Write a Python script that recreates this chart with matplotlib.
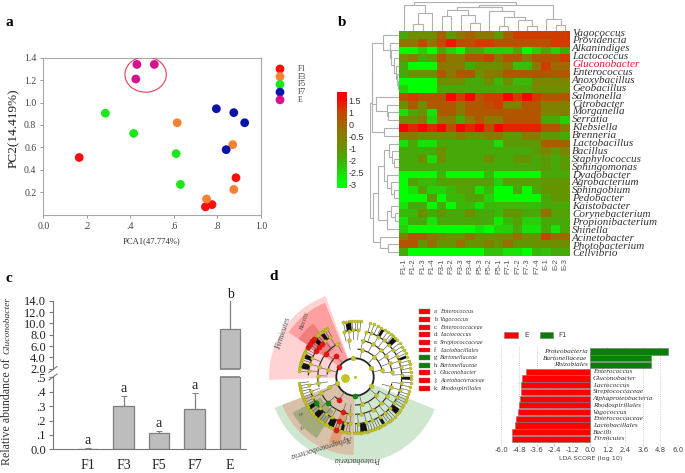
import numpy as np
import matplotlib
matplotlib.use("Agg")
import matplotlib.pyplot as plt
from matplotlib.colors import LinearSegmentedColormap
from matplotlib.patches import Ellipse, Wedge, Arc, Rectangle

W, H = 685, 473
SERIF = "Liberation Serif"

# panel a: PCA scatter
pca_groups = ["F1", "F3", "F5", "F7", "E"]
pca_colors = ["#fb0d0d", "#f58231", "#1be81b", "#0a14a8", "#d6128f"]
pca_x = [[0.165, 0.885, 0.775, 0.745],
         [0.615, 0.87, 0.875, 0.75],
         [0.285, 0.415, 0.61, 0.63],
         [0.795, 0.875, 0.925, 0.84],
         [0.43, 0.51, 0.425]]
pca_y = [[0.51, 0.33, 0.09, 0.07],
         [0.82, 0.625, 0.225, 0.14],
         [0.905, 0.725, 0.545, 0.27],
         [0.945, 0.91, 0.82, 0.58],
         [1.34, 1.34, 1.21]]

# panel b: heatmap
genera = ["Vagococcus", "Providencia", "Alkanindiges", "Lactococcus", "Gluconobacter",
          "Enterococcus", "Anoxybacillus", "Geobacillus", "Salmonella", "Citrobacter",
          "Morganella", "Serratia", "Klebsiella", "Brenneria", "Lactobacillus", "Bacillus",
          "Staphylococcus", "Sphingomonas", "Dyadobacter", "Agrobacterium", "Sphingobium",
          "Pedobacter", "Kaistobacter", "Corynebacterium", "Propionibacterium", "Shinella",
          "Acinetobacter", "Photobacterium", "Cellvibrio"]
samples = ["F1-1", "F1-2", "F1-3", "F1-4", "F3-1", "F3-2", "F3-3", "F3-4", "F5-3",
           "F5-2", "F5-1", "F7-1", "F7-2", "F7-3", "F7-4", "E-1", "E-2", "E-3"]
heat = [
    [-2, -1, -1, -1, 0, -1.5, -0.5, 0, -0.5, -0.5, -1.5, 0, 1, 1, 1, 1, 1, 1],
    [-0.5, -0.5, 0.5, -0.5, 0.5, 1.3, 0.5, 0.3, 1, 1, 0.3, 0.3, 0.3, 0.3, 0.3, 0.3, 1, 1],
    [-3, -3, -2.5, -3, -2, -2.5, -3, -2, -2, -2.5, -2.5, -2.5, -2, -3, -2.5, -2, -2.5, -2],
    [-1, -0.5, -2, -1.5, 0.3, -0.5, -0.5, 0.3, 0.3, 1, -0.5, 0.3, 0.3, -0.5, 0.3, 0.3, 0.3, 1],
    [-2, -3, -3, -3, -0.5, -0.5, -0.5, -2, -1, -1, -1, -0.5, -2.3, -2.3, -0.5, 1, -0.2, -0.2],
    [-2, -1, -1, -1, 0.3, -0.5, 0.3, 0.3, -1, -0.5, -0.5, 0.3, 0.3, 0.3, 0.3, 0.3, 0.2, 0.2],
    [-3, -3, -3, -3, -1, -1, -1, -2, -2, -1, -2.2, -1, -2.2, -2.2, -0.8, -0.8, -0.8, -0.8],
    [-2.5, -3, -3, -3, -2, -2, -2, -2, -2, -2, -2, -2, -2, -2, -1, -1, -1, -1],
    [0.3, 1, 0.3, 0.3, 0.3, 1.5, 1, 1.5, 0.3, 1, 1, 1.5, 1, 1.5, 1, 0.3, 0.3, 0.3],
    [-1, 0.2, -1, 0.2, 0.2, 0.2, -0.5, 0.2, 0.2, 0.5, 1, -0.7, -0.7, 0.3, 0.3, -0.7, -0.7, -0.7],
    [-2.7, -2, -1, -2.7, 0.2, 0.2, -0.5, 0.2, 0.2, 0.2, 0.2, 0.2, 0.3, 0.3, 0.3, -0.7, -0.7, -0.7],
    [-1, -1, -0.5, -2.5, -0.5, -0.5, -2, -0.5, 0.2, -0.5, -0.5, 0.3, 0.3, 0.3, 0.3, -2, -2, -2.5],
    [1.5, 1.2, 1.5, 1.2, 1.5, 0.5, 1.5, 1.2, 1.5, 0.5, 1.5, 1.2, 1.2, 1.2, 1.2, 0.3, 0.3, -0.5],
    [-0.5, -0.5, -1, -1, -1, -1, -0.5, -1, -1, -0.5, -0.5, -1.5, -1.5, -0.5, -0.5, -1.5, -1.5, -2],
    [-2.7, -2, -2.7, -2.7, -2, -2, -2, -2, -2, -2, -2.7, -1.5, -1.5, -1.5, -1.5, 0, 0, 0],
    [-2, -2, -2, -2, -1, -2, -2, -2, -2, -2, -2, -2, -2, -2, -1.5, -0.8, -1.5, -0.8],
    [-2, -2, -1, -2.6, -1, -2, -2, -2, -2, -1, -2, -2, -1.3, -1.3, -2, -1.5, -2, -1.5],
    [-2, -2, -2, -2, -2, -2, -2, -2, -2, -2, -2, -2, -2, -2, -2, -1.5, -2, -1.5],
    [-3, -3, -3, -3, -2.2, -3, -3, -3, -3, -2.2, -3, -3, -3, -3, -3, -2, -2, -2],
    [-3, -1.7, -2.2, -2.2, -1.7, -1.7, -1.7, -1.7, -1.7, -1.7, -2.5, -1.7, -1.7, -1.7, -1.7, -1.3, -1.3, -1.3],
    [-3, -2.7, -1.7, -2.5, -2.5, -2.2, -1.7, -1.7, -2.7, -2.2, -3, -3, -2, -3, -2, -1.3, -1.3, -1.3],
    [-3, -3, -3, -1.5, -3, -2.2, -2.2, -1.7, -1.7, -2.5, -3, -3, -3, -3, -3, -2, -1.3, -1.3],
    [-2.7, -2, -2, -3, -2, -3, -2.2, -2.2, -2.7, -2.2, -2.2, -2.2, -2.2, -2.2, -2.2, -2, -2, -2],
    [-2.2, -2.2, -1, -2, -1.3, -2, -2, -1, -2, -2, -2.2, -1.3, -1.3, -2, -2, -0.3, -1.7, -1.7],
    [-2.7, -2, -2, -2.7, -2, -2, -2, -2, -2, -2, -2.8, -2.2, -1.7, -2.5, -2.5, -2, -2, -2],
    [-2.5, -3, -3, -3, -3, -3, -3, -3, -2.7, -3, -2.5, -2.5, -2, -2.7, -2.7, -2, -2.7, -2],
    [-0.7, 0.2, 0.2, -0.3, -0.7, -1, -1, -0.3, -1, -1, -1, -1, -0.3, -1, -1, 0.8, -0.2, -0.2],
    [0.3, 0.3, -1.3, -0.3, -1.2, -1.2, -0.3, -1.2, -1.2, -0.6, -1.2, -0.3, -1.3, -1.3, -1.2, -1, -1, -1],
    [-2, -3, -3, -3, -3, -3, -3, -3, -3, -2.3, -2.3, -2.7, -2.7, -3, -2.2, -2.3, -2, -2],
]
cbar_levels = [1.5, 1, 0, -0.5, -1, -2, -2.5, -3]

# dendrograms: (height, left, right), ints are leaves
col_left = (78, 0, (55, (20, 1, 2), 3))
col_mid = (65, (45, 4, 5), (50, 6, (25, 7, 8)))
col_right = (42, (15, 10, 11), (32, 12, (15, 13, 14)))
col_end = (35, 15, (18, 16, 17))
col_tree = (87, col_left, (78, (72, col_mid, (60, 9, col_right)), col_end))

row_g1 = (48, 0, (28, 1, (24, 2, (16, 3, (10, 4, (7, 5, (4, 6, 7)))))))
row_g2 = (72, 8, (38, 9, (34, 10, 11)))
row_g3 = (45, 12, 13)
row_g4 = (64, (46, (30, 14, (22, 15, (14, 16, 17))), (36, 18, (24, 19, (14, 20, 21)))),
          (38, (26, 22, (12, 23, 24)), 25))
row_g5 = (58, 26, (34, 27, 28))
row_tree = (88, (84, (82, row_g1, row_g2), row_g3), (80, row_g4, row_g5))

# panel c: Gluconobacter abundance
abund_groups = ["F1", "F3", "F5", "F7", "E"]
abund_mean = [0.005, 0.30, 0.115, 0.28, 9.0]
abund_err = [0.006, 0.07, 0.01, 0.11, 5.1]
abund_letters = ["a", "a", "a", "a", "b"]

# panel d: cladogram, angles in degrees
clade_legend = ["Enterococcus", "Vagococcus", "Enterococcaceae", "Lactococcus",
                "Streptococcaceae", "Lactobacillales", "Bartonellaceae", "Bartonellaceae",
                "Gluconobacter", "Acetobacteraceae", "Rhodospirillales"]
clade_legend_keys = ["a", "b", "c", "d", "e", "f", "g", "h", "i", "j", "k"]
clade_legend_colors = ["red"] * 6 + ["#0a7d0a"] * 2 + ["red"] * 3

ring_radii = [18.7, 28, 37.3, 46.7, 56]
ring1_nodes = [30, 95, 200, 330]
ring2_nodes = [46, 165, 284, 320, 15, 75, 200]
ring3_nodes = [8, 22, 34, 46, 62, 78, 100, 118, 165, 178, 190, 205, 262, 280, 298, 315, 330, 345]
ring4_nodes = [-16, -8, 3, 12, 20, 27, 36, 44, 52, 60, 70, 76, 86, 92, 98, 104, 122, 130, 156,
               164, 172, 190, 198, 206, 222, 232, 240, 258, 264, 274, 284, 292, 302, 310, 318,
               326, 334]
leaf_nodes = [-14, -10, -6, -2, 1, 5, 9, 13, 17, 21, 25, 29, 33, 37, 41, 44, 47, 50, 54, 58, 62,
              66, 70, 74, 84, 87, 90, 93, 96, 99, 102, 120, 123, 126, 129, 132, 135, 138, 141,
              144, 147, 150, 153, 156, 159, 162, 165, 168, 171, 174, 186, 189, 192, 195, 198,
              201, 204, 207, 210, 213, 216, 219, 222, 225, 228, 231, 234, 237, 240, 243, 246,
              249, 252, 255, 258, 261, 264, 270, 273, 276, 279, 282, 285, 288, 291, 294, 297,
              300, 303, 306, 309, 312, 315, 318, 321, 324, 327, 330, 333, 336, 339, 342]
black_sectors = [(94, 100), (41, 46), (58, 61), (20, 23), (-3, 0), (-40, -36), (276, 283),
                 (240, 247), (255, 258), (222, 228), (212, 216), (125, 129), (134, 139),
                 (155, 160), (165, 171), (300, 303), (318, 321)]
arc_spans = [(28, 128, 175), (28, 225, 240), (28, 270, 330), (28, 10, 85),
             (37.3, 115, 195), (37.3, 205, 260), (37.3, 270, 350), (37.3, 5, 80),
             (46.7, 120, 178), (46.7, 195, 265), (46.7, 270, 345), (46.7, -20, 74), (46.7, 84, 104)]
olive_spans = [(118, 176), (186, 266), (268, 300)]
red_nodes_r = [18.7, 28, 37.3, 46.7, 46.7, 46.7, 56, 56, 56, 56, 28, 37.3, 46.7, 56]
red_nodes_a = [146, 132, 141, 140, 146.5, 135, 140.5, 147, 144, 137, 235, 251, 250, 250]
green_nodes_r = [18.7, 37.3, 46.7]
green_nodes_a = [271, 224, 214]

# panel d: LDA bars
lda_names = ["Proteobacteria", "Bartonellaceae", "Rhizobiales", "Enterococcus", "Gluconobacter",
             "Lactococcus", "Streptococcaceae", "Alphaproteobacteria", "Rhodospirillales",
             "Vagococcus", "Enterococcaceae", "Lactobacillales", "Bacilli", "Firmicutes"]
lda_scores = [5.35, 4.15, 4.15, -4.3, -4.6, -4.65, -4.66, -4.75, -4.83, -4.86, -5.0, -5.1, -5.27, -5.3]
lda_ticks = [-6.0, -4.8, -3.6, -2.4, -1.2, 0.0, 1.2, 2.4, 3.6, 4.8, 6.0]


fig = plt.figure(figsize=(W / 100, H / 100), dpi=100)


def px_axes(left, top, right, bottom):
    return fig.add_axes([left / W, 1 - bottom / H, (right - left) / W, (bottom - top) / H])


def px_text(x, y, s, **kw):
    kw.setdefault("family", SERIF)
    kw.setdefault("va", "center")
    return fig.text(x / W, 1 - y / H, s, **kw)


def draw_tree(ax, node, horizontal):
    # returns leaf position and height of a dendrogram node
    if isinstance(node, int):
        return node + 0.5, 0
    h, a, b = node
    pa, ha = draw_tree(ax, a, horizontal)
    pb, hb = draw_tree(ax, b, horizontal)
    xs, ys = [pa, pa, pb, pb], [ha, h, h, hb]
    if horizontal:
        xs, ys = ys, xs
    ax.plot(xs, ys, color="#b0b0b0", lw=0.8, solid_joinstyle="miter")
    return (pa + pb) / 2, h


for letter, x, y in [("a", 9, 23), ("b", 342, 22), ("c", 9, 279), ("d", 274, 277)]:
    px_text(x, y, letter, fontsize=11, fontweight="bold", ha="center")

# ---- a ----
ax = px_axes(43.3, 57.7, 261, 214.7)
for i in range(5):
    ax.scatter(pca_x[i], pca_y[i], s=40, color=pca_colors[i], edgecolors="none", zorder=3)
ax.add_patch(Ellipse((0.47, 1.25), 0.19, 0.315, fill=False, ec="#e8506a", lw=0.9, zorder=4))
ax.set_xlim(0, 1)
ax.set_ylim(0, 1.4)
ax.set_xticks([0, 0.2, 0.4, 0.6, 0.8, 1.0], ["0.0", ".2", ".4", ".6", ".8", "1.0"])
ax.set_yticks([0.2, 0.4, 0.6, 0.8, 1.0, 1.2, 1.4], ["0.2", "0.4", "0.6", "0.8", "1.0", "1.2", "1.4"])
ax.tick_params(length=2, width=0.6, color="#888888", labelsize=7, labelcolor="#444444", pad=3)
for lab in ax.get_xticklabels() + ax.get_yticklabels():
    lab.set_family(SERIF)
for s in ax.spines.values():
    s.set_color("#a8a8a8")
    s.set_linewidth(0.8)
px_text(152, 241, "PCA1(47.774%)", fontsize=6.2, ha="center", color="#333333")
px_text(14, 128, "PC2(14.419%)", fontsize=9.5, ha="center", rotation=90, color="#222222")

lax = px_axes(270, 62, 320, 106)
lax.scatter([0] * 5, range(5), s=40, c=pca_colors, edgecolors="none")
lax.set_xlim(-0.25, 1.0)
lax.set_ylim(4.8, -0.9)
lax.axis("off")
for i, g in enumerate(pca_groups):
    lax.text(0.45, i, g, fontsize=5.5, family=SERIF, va="center", color="#333333")

# ---- b ----
cmap = LinearSegmentedColormap.from_list("heat", [
    (0.0, "#00ff00"), (0.111, "#26d00c"), (0.222, "#48a80a"), (0.444, "#6f8e00"),
    (0.556, "#8a7a00"), (0.667, "#a86000"), (0.889, "#d03c00"), (1.0, "#ff0000")])
ax = px_axes(399, 31, 570, 256)
ax.imshow(np.array(heat), cmap=cmap, vmin=-3, vmax=1.5, aspect="auto",
          extent=(0, len(samples), len(genera), 0), interpolation="nearest")
ax.set_xticks(np.arange(len(samples)) + 0.5, samples, rotation=90, fontsize=5.5, family="Liberation Sans", color="#555555")
ax.set_yticks(np.linspace(0.13, 28.6, len(genera)), genera, fontsize=8, family=SERIF, style="italic", color="#333333")
ax.yaxis.tick_right()
ax.tick_params(length=0, pad=1.5)
ax.get_yticklabels()[genera.index("Gluconobacter")].set_color("#f01030")
for s in ax.spines.values():
    s.set_visible(False)

cax = px_axes(337, 92, 347, 188)
cax.imshow([[v] for v in cbar_levels], cmap=cmap, vmin=-3, vmax=1.5, aspect="auto", interpolation="bilinear")
cax.axis("off")
for i, v in enumerate(cbar_levels):
    cax.text(0.62, i + 0.25, f"{v:g}", fontsize=6.5, family="Liberation Sans", va="center", color="#333333")

tax = px_axes(399, 2, 570, 31)
draw_tree(tax, col_tree, False)
tax.set_xlim(0, len(samples))
tax.set_ylim(0, 88)
tax.axis("off")

tax = px_axes(370, 31, 399, 256)
draw_tree(tax, row_tree, True)
tax.set_xlim(89, 0)
tax.set_ylim(len(genera), 0)
tax.axis("off")

# ---- c ----
xpos = np.arange(5)
bar_kw = dict(width=0.59, color="#bdbdbd", edgecolor="#7f7f7f", linewidth=0.9)
err_kw = dict(ecolor="#808080", elinewidth=0.9, capsize=2, capthick=0.7)
low = px_axes(52.7, 377.3, 246, 449.3)
up = px_axes(52.7, 300.7, 246, 368.7)
for a in (low, up):
    a.bar(xpos, abund_mean, yerr=[[0] * 5, abund_err], error_kw=err_kw, **bar_kw)
    a.set_xlim(-0.994, 4.45)
    a.spines[["top", "right"]].set_visible(False)
    a.spines["left"].set_color("#777777")
    a.spines["bottom"].set_color("#777777")
    a.tick_params(axis="y", length=3, width=0.8, color="#777777", labelsize=9, pad=2, labelcolor="#222222")
low.set_ylim(0, 0.5)
low.set_yticks([0, 0.1, 0.2, 0.3, 0.4, 0.5], ["0.0", ".1", ".2", ".3", ".4", ".5"])
for lab in low.get_yticklabels():
    lab.set_family(SERIF)
low.set_xticks(xpos, abund_groups, family=SERIF, fontsize=10)
low.tick_params(axis="x", length=0, pad=7, labelcolor="#222222")
low.hlines(0.5, 4 - 0.295, 4 + 0.295, color="#7f7f7f", lw=1.2, clip_on=False)
up.set_ylim(2, 14)
up.set_yticks([2, 4, 6, 8, 10, 12, 14], ["2.0", "4.0", "6.0", "8.0", "10.0", "12.0", "14.0"])
for lab in up.get_yticklabels():
    lab.set_family(SERIF)
up.set_xticks([])
up.spines["bottom"].set_visible(False)
up.hlines(2, 4 - 0.295, 4 + 0.295, color="#7f7f7f", lw=1.2, clip_on=False)
for i in range(4):
    low.text(xpos[i], abund_mean[i] + abund_err[i] + 0.008, abund_letters[i], ha="center", va="bottom",
             fontsize=10, family=SERIF, color="#222222")
up.text(xpos[4], abund_mean[4] + abund_err[4] - 0.1, abund_letters[4], ha="center", va="bottom",
        fontsize=10, family=SERIF, color="#222222", clip_on=False)
for yb in (369.5, 377):
    fig.add_artist(plt.Line2D([49 / W, 57 / W], [1 - (yb + 3) / H, 1 - (yb - 3) / H], color="#777777", lw=0.8))
px_text(7, 411.5, "Relative abundance of", fontsize=8.6, rotation=90, ha="center", color="#333333")
px_text(7, 325, "Gluconobacter", fontsize=6.8, rotation=90, ha="center", style="italic", color="#333333")

# ---- d cladogram ----
ax = px_axes(260, 285, 450, 470)
ax.set_xlim(-95, 95)
ax.set_ylim(-93, 92)
ax.axis("off")
sectors = [(86, 110, 182, 18.7, "#ffd3d3"), (80, 112, 146, 18.7, "#ff9f9f"), (68, 128, 146, 35, "#f27d7d"),
           (86, 201, 338, 18.7, "#cfe6cf"), (78, 201, 269, 19, "#d8c0aa"),
           (72, 210, 238, 40, "#a5aa7c"), (70, 248, 257, 40, "#e29a72")]
for r, a0, a1, r0, c in sectors:
    ax.add_patch(Wedge((0, 0), r, a0, a1, width=r - r0, color=c, lw=0))


def polar(r, deg):
    t = np.radians(deg)
    return r * np.cos(t), r * np.sin(t)


ax.add_patch(Arc((0, 0), 2 * ring_radii[0], 2 * ring_radii[0], color="#222222", lw=1.3))
for r, a0, a1 in arc_spans:
    ax.add_patch(Arc((0, 0), 2 * r, 2 * r, theta1=a0, theta2=a1, color="#222222", lw=0.8))
for a0, a1 in olive_spans:
    ax.add_patch(Arc((0, 0), 2 * ring_radii[4], 2 * ring_radii[4], theta1=a0, theta2=a1, color="#b3b32c", lw=1.8))
for a in leaf_nodes:
    x, y = zip(polar(46.7, a), polar(56, a))
    ax.plot(x, y, color="#555555", lw=0.45, zorder=2)
for a0, a1 in black_sectors:
    ax.add_patch(Wedge((0, 0), 55, a0, a1, width=8, color="#111111", lw=0, zorder=2))
for a in ring4_nodes:
    x, y = zip(polar(37.3, a), polar(46.7, a))
    ax.plot(x, y, color="#666666", lw=0.5, zorder=2)
for a in ring3_nodes + red_nodes_a[2:3] + [224, 251]:
    x, y = zip(polar(28, a), polar(37.3, a))
    ax.plot(x, y, color="#666666", lw=0.5, zorder=2)
for a in ring2_nodes + [132, 235]:
    x, y = zip(polar(18.7, a), polar(28, a))
    ax.plot(x, y, color="#666666", lw=0.5, zorder=2)
yellow = "#c4c426"
ring_sets = [(ring1_nodes, 12), (ring2_nodes, 9), (ring3_nodes, 8), (ring4_nodes, 6), (leaf_nodes, 5)]
for r, (nodes, s) in zip(ring_radii, ring_sets):
    px, py = polar(r, np.array(nodes, dtype=float))
    ax.scatter(px, py, s=s, color=yellow, edgecolors="#8f8f20", linewidths=0.2, zorder=3)
ax.scatter([-10], [-0.5], s=28, color=yellow, zorder=3)
ax.scatter([0], [0], s=1.5, color=yellow, zorder=3)
px, py = polar(np.array(red_nodes_r), np.array(red_nodes_a))
ax.scatter(px, py, s=14, color="#ee1111", edgecolors="#881111", linewidths=0.2, zorder=4)
px, py = polar(np.array(green_nodes_r), np.array(green_nodes_a))
ax.scatter(px, py, s=14, color="#0a8a0a", edgecolors="#064406", linewidths=0.2, zorder=4)
for s, tx, ty, rot, fs in [("Firmicutes", -72, 43, 72, 5.5), ("Bacilli", -50, 56, 70, 5),
                           ("Proteobacteria", 3, -82, 180, 5.5), ("Alphaproteobacteria", -33, -69, 197, 5.5),
                           ("h", -52, -49, 140, 4.5), ("g", -54, -36, 140, 4)]:
    ax.text(tx, ty, s, rotation=rot, fontsize=fs, family=SERIF, style="italic", ha="center", va="center",
            color="#444444", zorder=5)

lg = px_axes(417, 308, 505, 392)
lg.set_xlim(417, 505)
lg.set_ylim(11, 0)
lg.axis("off")
for i, name in enumerate(clade_legend):
    lg.add_patch(Rectangle((419, i + 0.18), 11, 0.64, fc=clade_legend_colors[i], ec="#777777", lw=0.3))
    lg.text(434, i + 0.5, clade_legend_keys[i] + ":", fontsize=4.4, family=SERIF, va="center", color="#333333")
    lg.text(440, i + 0.5, name, fontsize=4.4, family=SERIF, style="italic", va="center", color="#333333")

# ---- d LDA ----
ax = px_axes(501.3, 346.5, 678, 445)
ypos = np.arange(len(lda_scores))
lda_colors = ["#0a7d0a" if v > 0 else "#ff0000" for v in lda_scores]
ax.barh(ypos, lda_scores, height=0.92, color=lda_colors, edgecolor="#777777", linewidth=0.4, zorder=3)
ax.set_xlim(-6, 6)
ax.set_ylim(13.9, -0.75)
ax.set_xticks(lda_ticks, [f"{v:.1f}" for v in lda_ticks])
ax.set_yticks([])
ax.tick_params(axis="x", length=1, width=0.4, labelsize=5, pad=0.5, labelcolor="#444444", color="#888888")
ax.grid(axis="x", linestyle=":", color="#bbbbbb", lw=0.6, zorder=0)
for s in ax.spines.values():
    s.set_visible(False)
for i, name in enumerate(lda_names):
    off = -0.15 if lda_scores[i] > 0 else 0.2
    ax.text(off, i, name, fontsize=5.2, family=SERIF, style="italic", va="center", color="#333333",
            ha="right" if lda_scores[i] > 0 else "left", zorder=4)
px_text(591, 458, "LDA SCORE (log 10)", fontsize=4.6, family="DejaVu Sans", ha="center", color="#444444")

fig.add_artist(Rectangle((504 / W, 1 - 338 / H), 14 / W, 6 / H, fc="#ff0000", ec="#777777", lw=0.4))
fig.add_artist(Rectangle((540 / W, 1 - 338 / H), 13 / W, 6 / H, fc="#0a7d0a", ec="#777777", lw=0.4))
px_text(524, 335, "E", fontsize=5, family="DejaVu Sans", color="#444444")
px_text(558, 335, "F1", fontsize=5, family="DejaVu Sans", color="#444444")

fig.savefig("out.png", dpi=100)
